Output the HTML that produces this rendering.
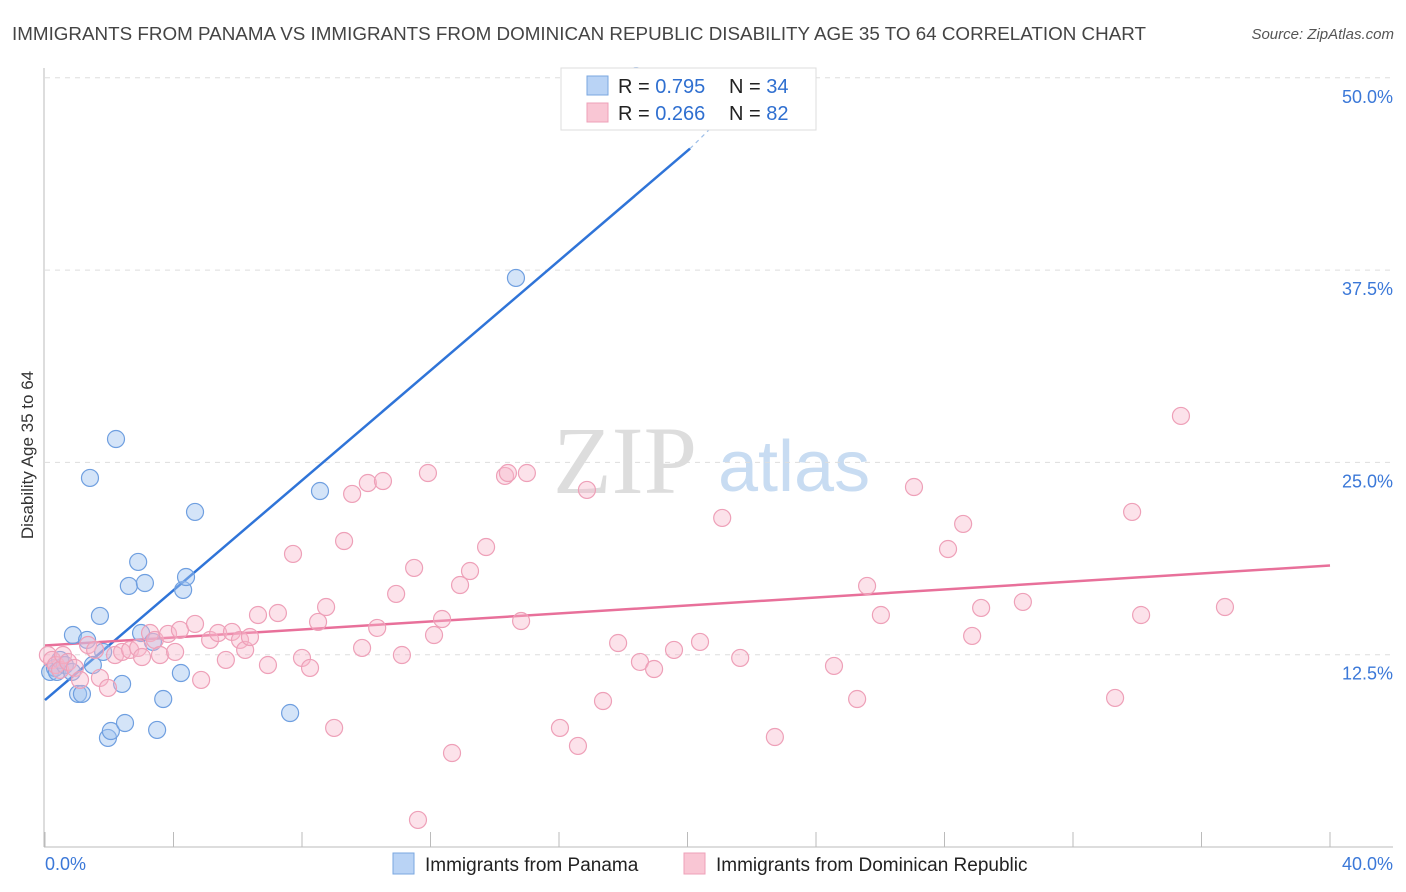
<!DOCTYPE html>
<html><head><meta charset="utf-8"><style>
body{margin:0;background:#fff;font-family:"Liberation Sans",sans-serif;}
svg{display:block}
</style></head><body>
<svg id="chart" width="1406" height="892">
<text x="12" y="40" font-size="18.5" fill="#444" textLength="1134" lengthAdjust="spacingAndGlyphs">IMMIGRANTS FROM PANAMA VS IMMIGRANTS FROM DOMINICAN REPUBLIC DISABILITY AGE 35 TO 64 CORRELATION CHART</text>
<text x="1394" y="39" font-size="15" fill="#555" font-style="italic" text-anchor="end">Source: ZipAtlas.com</text>
<text transform="translate(33,455) rotate(-90)" font-size="17" fill="#333" text-anchor="middle">Disability Age 35 to 64</text>
<g><text x="553" y="493" font-family="Liberation Serif,serif" font-size="96" fill="#ddd">ZIP</text><text x="718" y="491" font-size="72" fill="#c8dcf2">atlas</text></g>
<g id="grid"></g><g id="axes"></g><g id="lines"></g><g id="pts"></g>
<g>
<rect x="561" y="68" width="255" height="62" fill="#fff" stroke="#ddd"/>
<rect x="587" y="76" width="21" height="19" fill="#b9d3f5" stroke="#7aa7e0"/>
<rect x="587" y="103" width="21" height="19" fill="#f9c6d4" stroke="#eea0b8"/>
<text x="618" y="93" font-size="20" fill="#222">R = <tspan fill="#2f6fd0">0.795</tspan></text>
<text x="729" y="93" font-size="20" fill="#222">N = <tspan fill="#2f6fd0">34</tspan></text>
<text x="618" y="120" font-size="20" fill="#222">R = <tspan fill="#2f6fd0">0.266</tspan></text>
<text x="729" y="120" font-size="20" fill="#222">N = <tspan fill="#2f6fd0">82</tspan></text>
</g>
<g>
<rect x="393" y="853" width="21" height="21" fill="#b9d3f5" stroke="#7aa7e0"/>
<text x="425" y="871" font-size="19" fill="#222">Immigrants from Panama</text>
<rect x="684" y="853" width="21" height="21" fill="#f9c6d4" stroke="#eea0b8"/>
<text x="716" y="871" font-size="19" fill="#222">Immigrants from Dominican Republic</text>
</g>
</svg>
<script>
const blueX=[0.16,0.31,0.37,0.47,0.62,0.84,0.87,1.03,1.15,1.31,1.40,1.49,1.71,1.81,1.96,2.05,2.21,2.40,2.49,2.61,2.90,2.99,3.11,3.36,3.49,3.68,4.23,4.30,4.39,4.67,7.63,8.56,14.66,18.4];
const blueY=[11.38,11.64,11.38,12.16,11.83,11.38,13.78,9.95,9.95,13.46,23.99,11.83,15.02,12.68,7.09,7.54,26.52,10.60,8.06,16.97,18.53,13.91,17.16,13.33,7.61,9.62,11.31,16.71,17.55,21.78,8.71,23.14,36.99,50.1];
const pinkX=[0.09,0.22,0.34,0.47,0.56,0.72,0.93,1.09,1.34,1.56,1.71,1.96,2.18,2.40,2.65,2.90,3.02,3.27,3.42,3.58,3.83,4.05,4.20,4.67,4.86,5.14,5.39,5.63,5.82,6.07,6.23,6.38,6.63,6.94,7.25,7.72,8.00,8.25,8.50,8.75,9.00,9.31,9.56,9.87,10.05,10.34,10.52,10.93,11.11,11.49,11.61,11.92,12.11,12.36,12.67,12.92,13.23,13.73,14.32,14.41,14.82,15.00,16.03,16.59,16.87,17.37,17.84,18.52,18.96,19.58,20.39,21.08,21.64,22.72,24.56,25.28,25.59,26.02,27.05,28.11,28.58,28.86,29.14,30.44,33.31,33.84,34.12,35.36,36.73];
const pinkY=[12.48,12.16,11.83,11.51,12.48,12.03,11.64,10.86,13.13,12.81,10.99,10.34,12.48,12.68,12.81,12.94,12.35,13.91,13.46,12.48,13.85,12.68,14.11,14.50,10.86,13.46,13.91,12.16,13.98,13.46,12.81,13.65,15.08,11.83,15.21,19.05,12.29,11.64,14.63,15.60,7.74,19.89,22.95,12.94,23.66,14.24,23.79,16.45,12.48,18.14,1.76,24.31,13.78,14.82,6.11,17.03,17.94,19.50,24.12,24.31,14.69,24.31,7.74,6.57,23.21,9.49,13.26,12.03,11.57,12.81,13.33,21.39,12.29,7.15,11.77,9.62,16.97,15.08,23.40,19.37,21.00,13.72,15.54,15.93,9.69,21.78,15.08,28.02,15.60];
const blueTrend=[[0,9.55],[20.08,45.4]];
const blueTrendDash=[[20.08,45.4],[21.0,47.3]];
const pinkTrend=[[0,13.1],[40,18.3]];
const yTicks=[12.5,25,37.5,50];
const yTickLabels=["12.5%","25.0%","37.5%","50.0%"];
const xTicks=[0,4,8,12,16,20,24,28,32,36,40];

const NS="http://www.w3.org/2000/svg";
const sx=v=>45+v/40*1285;
const sy=v=>847-v/12.5*192.3;
function mk(tag,attrs,parent){const e=document.createElementNS(NS,tag);for(const k in attrs)e.setAttribute(k,attrs[k]);document.getElementById(parent).appendChild(e);return e;}
yTicks.forEach((t,i)=>{
 const g=mk('line',{x1:45,x2:1393,y1:sy(t),y2:sy(t),stroke:'#ddd','stroke-dasharray':'5,5'},'grid');
 
 
 const l=mk('text',{x:1393,y:sy(t)+25,'font-size':18,fill:'#3b78d8','text-anchor':'end'},'axes');
 l.textContent=yTickLabels[i];
 
 
});
const ax=mk('line',{x1:44,x2:44,y1:68,y2:847,stroke:'#bbb'},'axes');


const bx=mk('line',{x1:44,x2:1393,y1:847,y2:847,stroke:'#bbb'},'axes');


xTicks.forEach(t=>{
 const k=mk('line',{x1:sx(t),x2:sx(t),y1:832,y2:847,stroke:'#bbb'},'axes');
 
 
});
const x0=mk('text',{x:45,y:870,'font-size':18,fill:'#3b78d8'},'axes');x0.textContent="0.0%";


const x1=mk('text',{x:1393,y:870,'font-size':18,fill:'#3b78d8','text-anchor':'end'},'axes');x1.textContent="40.0%";


blueX.forEach((v,i)=>{
 const c=mk('circle',{cx:sx(v),cy:sy(blueY[i]),r:8.5,fill:'rgba(160,196,240,0.45)',stroke:'#6f9fe0','stroke-width':1.2},'pts');
 
 
});
pinkX.forEach((v,i)=>{
 const c=mk('circle',{cx:sx(v),cy:sy(pinkY[i]),r:8.5,fill:'rgba(248,182,202,0.4)',stroke:'#eea0b8','stroke-width':1.2},'pts');
 
 
});
const bl=mk('line',{x1:sx(blueTrend[0][0]),y1:sy(blueTrend[0][1]),x2:sx(blueTrend[1][0]),y2:sy(blueTrend[1][1]),stroke:'#2f74d8','stroke-width':2.5},'lines');


const bd=mk('line',{x1:sx(blueTrendDash[0][0]),y1:sy(blueTrendDash[0][1]),x2:sx(blueTrendDash[1][0]),y2:sy(blueTrendDash[1][1]),stroke:'#9bbde8','stroke-width':1.2,'stroke-dasharray':'4,4'},'lines');


const pl=mk('line',{x1:sx(pinkTrend[0][0]),y1:sy(pinkTrend[0][1]),x2:sx(pinkTrend[1][0]),y2:sy(pinkTrend[1][1]),stroke:'#e8709a','stroke-width':2.5},'lines');


</script>
</body></html>
